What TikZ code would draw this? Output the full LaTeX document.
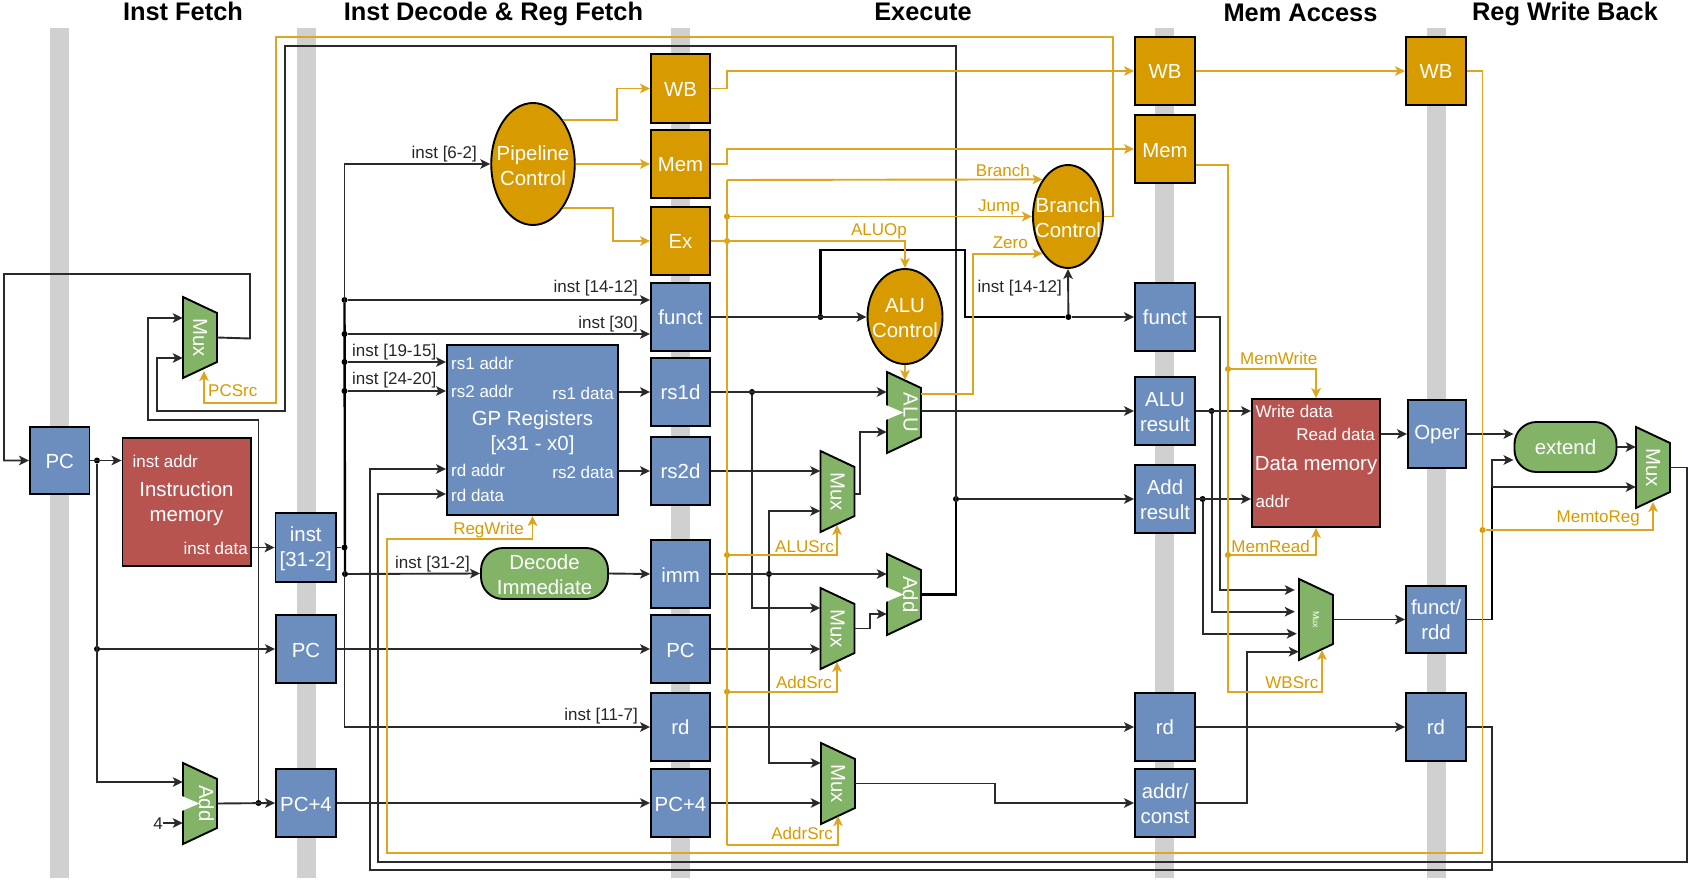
\documentclass[tikz,border=0pt]{standalone}
\usepackage{fontspec}
\usepackage{graphicx}
\setmainfont{Liberation Sans}
\usetikzlibrary{arrows.meta,shapes.geometric}
\definecolor{cblue}{HTML}{6C8EBF}
\definecolor{corange}{HTML}{D79B00}
\definecolor{cgreen}{HTML}{82B366}
\definecolor{cred}{HTML}{B85450}
\definecolor{cbar}{HTML}{D0D0D0}
\definecolor{cline}{HTML}{2A2A2A}
\definecolor{camb}{HTML}{DDA520}
\tikzset{
  big/.style={font=\fontsize{20.4}{25}\selectfont},
  small/.style={font=\fontsize{17}{20}\selectfont},
  title/.style={font=\fontsize{25.4}{30}\selectfont\bfseries,text=black,inner sep=0pt,text height=18pt,text depth=5pt},
  blockbase/.style={draw=black,line width=1.9pt,text=white,inner sep=0pt,align=center,big},
  blue/.style={blockbase,fill=cblue},
  orange/.style={blockbase,fill=corange},
  red/.style={blockbase,fill=cred},
  lab/.style={small,inner sep=0pt,text height=15pt,text depth=3pt},
  wlab/.style={lab,text=white},
  blab/.style={lab,text=black!85},
  alab/.style={lab,text=corange},
  oval/.style={ellipse,draw=black,line width=1.9pt,fill=corange,inner sep=0pt},
  ovaltext/.style={big,text=white,align=center,inner sep=0pt},
  stad/.style={blockbase,fill=cgreen,rounded corners=22pt},
  bk/.style={draw=cline,line width=1.9pt,-{Stealth[length=10pt,width=9.5pt,inset=2.5pt]}},
  bkn/.style={draw=black,line width=2.4pt},
  am/.style={draw=camb,line width=1.9pt,-{Stealth[length=10pt,width=9.5pt,inset=2.5pt,fill=corange]}},
  amn/.style={draw=camb,line width=1.9pt},
  dotk/.style={circle,fill=black,inner sep=0pt,minimum size=6pt},
  dota/.style={circle,fill=corange,inner sep=0pt,minimum size=6pt},
  trapbody/.style={draw=black,line width=1.9pt,fill=cgreen,line join=miter},
  hold/.style={inner sep=0pt,minimum width=34pt,minimum height=81pt,text=white,big},
}
% name, left, top, width, height, style, text
\newcommand\blk[7]{\node[#6,minimum width=#4pt,minimum height=#5pt] (#1) at (#2+#4/2,#3+#5/2) {\rule{0pt}{16pt}#7};}
% mux: name, left, top, text
\newcommand\muxn[4]{%
  \draw[trapbody] (#2,#3) -- ++(34,16) -- ++(0,49) -- ++(-34,16) -- cycle;
  \node[hold] (#1) at (#2+17,#3+40.5) {\rotatebox{-90}{#4}};}
% notched: name, left, top, text
\newcommand\addn[4]{%
  \draw[trapbody] (#2,#3) -- ++(34,16) -- ++(0,49) -- ++(-34,16) -- cycle;
  \fill[white] (#2-1.2,#3+33) -- (#2+16.5,#3+40.5) -- (#2-1.2,#3+48) -- cycle;
  \node[hold] (#1) at (#2+17,#3+40.5) {\hspace*{13pt}\rotatebox{-90}{#4}};}
\begin{document}
\begin{tikzpicture}[x=1pt,y=-1pt]
\useasboundingbox (0,0) rectangle (1696,882);
\fill[white] (0,0) rectangle (1696,882);
% pipeline bars
\foreach \bx in {50,297,671,1155,1427}{\fill[cbar] (\bx,28) rectangle (\bx+18.5,878);}
% titles
\node[title] (t1) at (183,14) {Inst Fetch};
\node[title] (t2) at (493.5,14) {Inst Decode \& Reg Fetch};
\node[title] (t3) at (923,14) {Execute};
\node[title] (t4) at (1300.5,15) {Mem Access};
\node[title] (t5) at (1565,14) {Reg Write Back};
% stage 1
\blk{pca}{30}{427}{59.5}{67}{blue}{PC}
\blk{imem}{122.5}{438}{128.5}{128}{red}{}
\node[ovaltext] (imemt) at (186.5,504) {Instruction\\memory};
\node[wlab,anchor=west] (imema) at (132.5,461) {inst addr};
\node[wlab,anchor=east] (imemd) at (248,548) {inst data};
\muxn{muxpc}{183}{297}{Mux}
\addn{adda}{183}{763}{Add}
% stage 2
\blk{inst}{275.5}{513}{60.5}{69}{blue}{\rule{0pt}{18pt}inst\\{}[31-2]}
\blk{pcb}{276}{615}{60}{68}{blue}{\rule{0pt}{18pt}PC}
\blk{pcfb}{276}{769}{60}{68}{blue}{\rule{0pt}{18pt}PC+4}
\node[oval,minimum width=83.5pt,minimum height=122pt] (pipe) at (533,164) {};
\node[ovaltext] (pipet) at (533,165.5) {Pipeline\\Control};
\blk{gp}{447}{345}{171}{170}{blue}{}
\node[ovaltext] (gpt) at (532.5,433) {GP Registers\\{}[x31 - x0]};
\node[wlab,anchor=west] (gp1) at (451,363) {rs1 addr};
\node[wlab,anchor=west] (gp2) at (451,391) {rs2 addr};
\node[wlab,anchor=east] (gp3) at (614,393) {rs1 data};
\node[wlab,anchor=west] (gp4) at (451,470) {rd addr};
\node[wlab,anchor=east] (gp5) at (614,472) {rs2 data};
\node[wlab,anchor=west] (gp6) at (451,495) {rd data};
\blk{dec}{481}{548}{127}{51}{stad}{\rule{0pt}{18pt}Decode\\Immediate}
% stage 3 boxes
\blk{wbc}{651}{54}{59}{69}{orange}{WB}
\blk{memc}{651}{130}{59}{68}{orange}{Mem}
\blk{exc}{651}{207}{59}{68}{orange}{Ex}
\blk{functc}{651}{283}{59}{68}{blue}{funct}
\blk{rsa}{651}{358}{59}{68}{blue}{rs1d}
\blk{rsb}{651}{437}{59}{68}{blue}{rs2d}
\blk{imm}{651}{540}{59}{68}{blue}{imm}
\blk{pcc}{651}{615}{59}{68}{blue}{\rule{0pt}{18pt}PC}
\blk{rdc}{651}{693}{59}{68}{blue}{rd}
\blk{pcfc}{651}{769}{59}{68}{blue}{\rule{0pt}{18pt}PC+4}
% execute
\node[oval,minimum width=75pt,minimum height=95pt] (aluc) at (905,316.5) {};
\node[ovaltext] (aluct) at (905,318) {ALU\\Control};
\node[oval,minimum width=70pt,minimum height=103pt] (bc) at (1068,216.5) {};
\node[ovaltext] (bct) at (1068,218) {Branch\\Control};
\addn{alu}{887}{372}{ALU}
\addn{addb}{887}{554}{Add}
\muxn{muxa}{820.5}{451}{Mux}
\muxn{muxb}{820.5}{588}{Mux}
\muxn{muxc}{821}{743}{Mux}
% stage 4 boxes
\blk{wbd}{1135}{37}{60}{68}{orange}{WB}
\blk{memd}{1135}{115}{60}{68}{orange}{\rule{0pt}{18pt}Mem}
\blk{functd}{1135}{283}{60}{68}{blue}{funct}
\blk{alur}{1135}{377}{60}{68}{blue}{ALU\\result}
\blk{addr}{1135}{465}{60}{68}{blue}{Add\\result}
\blk{rdd}{1135}{693}{60}{68}{blue}{rd}
\blk{addc}{1135}{769}{60}{68}{blue}{addr/\\const}
\blk{dmem}{1252}{399}{128}{128}{red}{}
\node[ovaltext] (dmemt) at (1316,465.5) {Data memory};
\node[wlab,anchor=west] (dm1) at (1255.5,411) {Write data};
\node[wlab,anchor=east] (dm2) at (1375,434) {Read data};
\node[wlab,anchor=west] (dm3) at (1255.5,501) {addr};
\draw[trapbody] (1299,579) -- ++(34,16) -- ++(0,49) -- ++(-34,16) -- cycle;
\node[hold,font=\fontsize{9}{11}\selectfont] (muxd) at (1316,619.5) {\rotatebox{-90}{Mux}};
% stage 5 boxes
\blk{wbe}{1406}{37}{60}{68}{orange}{WB}
\blk{oper}{1408}{400}{58}{68}{blue}{\rule[-4pt]{0pt}{20pt}Oper}
\blk{frd}{1406}{586}{60}{67}{blue}{funct/\\rdd}
\blk{rde}{1406}{693}{60}{68}{blue}{rd}
\blk{ext}{1514.5}{422}{102}{50}{stad}{extend}
\muxn{muxe}{1636}{427}{Mux}
% junction dots
\node[dotk] (ja) at (97,460.5) {};
\node[dotk] (jb) at (97,649) {};
\node[dotk] (jc) at (258.5,803) {};
\node[dotk] (jd) at (344.5,547.5) {};
\node[dotk] (je) at (344.5,300) {};
\node[dotk] (jf) at (344.5,334) {};
\node[dotk] (jg) at (344.5,362) {};
\node[dotk] (jh) at (344.5,391) {};
\node[dotk] (ji) at (345,574) {};
\node[dotk] (jj) at (752,392) {};
\node[dotk] (jk) at (769,574) {};
\node[dotk] (jl) at (820.4,317) {};
\node[dotk] (jm) at (1068.4,317) {};
\node[dotk] (jn) at (956,499) {};
\node[dotk] (jo) at (1211.6,411) {};
\node[dotk] (jp) at (1202.6,499) {};
\coordinate (jq) at (1492,487);
\node[dota] (ka) at (727,241) {};
\node[dota] (kb) at (727,216.5) {};
\node[dota] (kc) at (727,555) {};
\node[dota] (kd) at (727,691.7) {};
\node[dota] (ke) at (1228,369) {};
\node[dota] (kf) at (1228,555) {};
\node[dota] (kg) at (1482.5,530) {};
% black connectors, stage 1
\draw[bk] (muxpc.east) -- (250,338.5) -- (250,274) -- (4,274) |- (pca.west);
\draw[bk] (pca.east) -- (imem.west |- pca.east);
\draw[bk] (ja) |- (adda.west |- 0,782);
\draw[bk] (jb) -- (pcb.west);
\draw[bk] (adda.east) -- (pcfb.west);
\draw[bk] (jc) -- (258.5,420) -- (148,420) |- (muxpc.west |- 0,318);
\node[blab,anchor=east] (four) at (163,823) {4};
\draw[bk] (four.east) -- (adda.west |- four.east);
\draw[bk] (addb.east) -- (956,594.5) -- (956,46) -- (285,46) -- (285,411) -- (157,411) |- (muxpc.west |- 0,358);
\draw[bk] (jn) -- (addr.west);
% stage 2
\draw[bk] (imem.east |- inst.west) -- (inst.west);
\draw[bk,-] (inst.east) -- (jd);
\draw[bk] (jd) |- (pipe.west);
\draw[bk] (jd) |- (rdc.west);
\draw[bkn] (je) -- (ji);
\draw[bk] (je) -- (functc.west |- je);
\draw[bk] (jf) -- (functc.west |- jf);
\draw[bk] (jg) -- (gp.west |- jg);
\draw[bk] (jh) -- (gp.west |- jh);
\draw[bk] (ji) -- (dec.west);
\draw[bk] (pcb.east) -- (pcc.west);
\draw[bk] (pcfb.east) -- (pcfc.west);
\draw[bk] (gp.east |- rsa.west) -- (rsa.west);
\draw[bk] (gp.east |- rsb.west) -- (rsb.west);
\draw[bk] (dec.east) -- (imm.west);
% stage 3
\draw[bkn] (rsa.east) -- (jj);
\draw[bk] (rsa.east) -- (alu.west |- rsa.east);
\draw[bk] (jj) |- (muxb.west |- 0,608);
\draw[bk] (rsb.east) -- (muxa.west |- rsb.east);
\draw[bkn] (imm.east) -- (jk);
\draw[bk] (imm.east) -- (addb.west |- imm.east);
\draw[bk] (jk) |- (muxa.west |- 0,511);
\draw[bk] (jk) |- (muxc.west |- 0,763);
\draw[bk] (pcc.east) -- (muxb.west |- pcc.east);
\draw[bk] (pcfc.east) -- (muxc.west |- pcfc.east);
\draw[bk] (muxa.east |- 0,494) -- (860,494) |- (alu.west |- 0,432);
\draw[bk] (muxb.east) -- (870,628.5) |- (addb.west |- 0,614);
\draw[bk] (muxc.east) -- (995,783.5) |- (addc.west);
\draw[bkn] (functc.east) -- (jl) -- (820.4,250) -- (964.7,250) |- (jm);
\draw[bk] (functc.east) -- (aluc.west |- functc.east);
\draw[bk] (jm) -- (functd.west);
\draw[bk] (jm) -- (bc.south);
\draw[bk] (alu.east |- alur.west) -- (alur.west);
\draw[bk] (rdc.east) -- (rdd.west);
\draw[bkn] (addb.east) -- (956,594.5) -- (jn);
% stage 4
\draw[bk] (alur.east) -- (dmem.west |- alur.east);
\draw[bk] (addr.east) -- (dmem.west |- addr.east);
\draw[bk] (rdd.east) -- (rde.west);
\draw[bk,shorten >=4pt] (functd.east) -- (1220,317) |- (muxd.west |- 0,590);
\draw[bk,shorten >=4pt] (jo) |- (muxd.west |- 0,611.7);
\draw[bk,shorten >=2pt] (jp) |- (muxd.west |- 0,633.7);
\draw[bk] (addc.east) -- (1246.8,803) |- (muxd.west |- 0,651.7);
\draw[bk] (muxd.east) -- (frd.west);
\draw[bk] (dmem.east |- oper.west) -- (oper.west);
\draw[bk] (oper.east) -- (ext.west |- oper.east);
\draw[bk] (frd.east) -- (1492,619.5) |- (ext.west |- 0,460);
\draw[bkn] (jq) -- (1492,619.5);
\draw[bk] (jq) -- (muxe.west |- jq);
\draw[bk] (ext.east) -- (muxe.west |- ext.east);
\draw[bk] (rde.east) -- (1492,727) -- (1492,870) -- (370,870) |- (gp.west |- 0,469);
\draw[bk] (muxe.east) -- (1687,467.5) -- (1687,862) -- (378,862) |- (gp.west |- 0,494);
% amber connectors
\draw[am] (bc.east) -- (1113,216.5) -- (1113,37) -- (276,37) -- (276,403) -| (204,371);
\draw[am] (pipe.north east) -| (617,88.5) -- (wbc.west);
\draw[am] (pipe.east) -- (memc.west);
\draw[am] (pipe.south east) -| (612.6,241) -- (exc.west);
\draw[am] (wbc.east) -- (727,88.5) |- (wbd.west);
\draw[am] (memc.east) -- (727,164) |- (memd.west);
\draw[am] (wbd.east) -- (wbe.west);
\draw[am] (exc.east) -| (aluc.north);
\draw[am] (727,180) -- (bc.north west);
\draw[amn] (727,180) -- (727,844.7);
\draw[am] (727,844.7) -| (838,816);
\draw[am] (kb) -- (bc.west);
\draw[am] (kc) -| (837,525);
\draw[am] (kd) -| (837,662);
\draw[am] (aluc.south) -- (aluc.south |- 0,380);
\draw[am] (alu.east |- 0,394) -- (972.8,394) |- (bc.south west);
\draw[am] (memd.east |- 0,165) -- (1228,165) |- (1322,691.7) -- (1322,650);
\draw[am] (ke) -| (dmem.north);
\draw[am] (kf) -| (dmem.south);
\draw[am] (wbe.east) -| (1482.5,853) -- (387,853) |- (532.5,538.7) -- (gp.south);
\draw[am] (kg) -| (1653,502);
% labels
\node[blab,anchor=east] (n1) at (477,153) {inst [6-2]};
\node[blab,anchor=east] (n2) at (638,287) {inst [14-12]};
\node[blab,anchor=east] (n3) at (638,322) {inst [30]};
\node[blab,anchor=west] (n4) at (352,350) {inst [19-15]};
\node[blab,anchor=west] (n5) at (352,378) {inst [24-20]};
\node[blab,anchor=east] (n6) at (470,562) {inst [31-2]};
\node[blab,anchor=east] (n7) at (638,714) {inst [11-7]};
\node[blab,anchor=east] (n8) at (1062,287) {inst [14-12]};
\node[alab,anchor=west] (a1) at (208,390) {PCSrc};
\node[alab,anchor=east] (a2) at (524,528) {RegWrite};
\node[alab,anchor=east] (a3) at (834,546) {ALUSrc};
\node[alab,anchor=east] (a4) at (832,682) {AddSrc};
\node[alab,anchor=east] (a5) at (833,833) {AddrSrc};
\node[alab,anchor=east] (a6) at (1030,171) {Branch};
\node[alab,anchor=east] (a7) at (1020,206) {Jump};
\node[alab,anchor=east] (a8) at (907,230) {ALUOp};
\node[alab,anchor=east] (a9) at (1028,243) {Zero};
\node[alab,anchor=east] (a10) at (1317.5,358) {MemWrite};
\node[alab,anchor=east] (a11) at (1310,546) {MemRead};
\node[alab,anchor=east] (a12) at (1318.5,682) {WBSrc};
\node[alab,anchor=east] (a13) at (1640,516) {MemtoReg};
\end{tikzpicture}
\end{document}
